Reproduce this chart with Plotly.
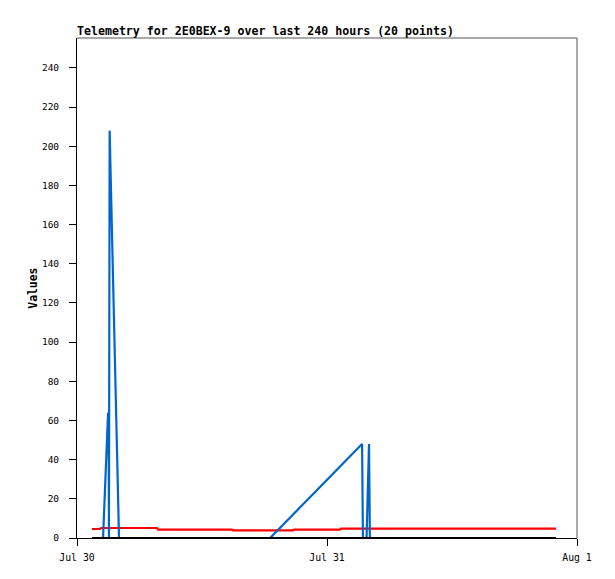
import plotly.graph_objects as go

title_text = "Telemetry for 2E0BEX-9 over last 240 hours (20 points)"
y_label = "Values"

blue_times = ["2023-07-30 01:26", "2023-07-30 02:30", "2023-07-30 02:59", "2023-07-30 03:03",
              "2023-07-30 03:04", "2023-07-30 03:08", "2023-07-30 04:02", "2023-07-30 18:32",
              "2023-07-31 03:22", "2023-07-31 03:27", "2023-07-31 03:48", "2023-07-31 04:02",
              "2023-07-31 04:07", "2023-07-31 21:59"]
blue_values = [0, 0, 64, 40, 0, 208, 0, 0, 48, 0, 0, 48, 0, 0]

red_times = ["2023-07-30 01:26", "2023-07-30 02:13", "2023-07-30 02:18", "2023-07-30 07:41",
             "2023-07-30 07:47", "2023-07-30 14:53", "2023-07-30 14:59", "2023-07-30 20:44",
             "2023-07-30 20:50", "2023-07-31 01:15", "2023-07-31 01:21", "2023-07-31 21:59"]
red_values = [4.6, 4.6, 5.1, 5.1, 4.3, 4.3, 3.9, 3.9, 4.3, 4.3, 4.8, 4.8]

black_times = ["2023-07-30 01:26", "2023-07-31 21:59"]
black_values = [0, 0]

x_tick_vals = ["2023-07-30", "2023-07-31", "2023-08-01"]
x_tick_text = ["Jul 30", "Jul 31", "Aug 1"]
y_tick_vals = [0, 20, 40, 60, 80, 100, 120, 140, 160, 180, 200, 220, 240]

mono = "DejaVu Sans Mono"
OFF = 8  # page body offset

fig = go.Figure()
fig.add_trace(go.Scatter(x=red_times, y=red_values, mode="lines",
                         line=dict(color="#FF0000", width=2.2), showlegend=False))
fig.add_trace(go.Scatter(x=blue_times, y=blue_values, mode="lines",
                         line=dict(color="#0066CC", width=2.2), showlegend=False))
fig.add_trace(go.Scatter(x=black_times, y=black_values, mode="lines",
                         line=dict(color="#000000", width=2.2), showlegend=False))

fig.update_layout(
    width=615, height=579,
    margin=dict(l=77 - OFF, r=38 + OFF, t=38 - OFF, b=41 + OFF),
    paper_bgcolor="white", plot_bgcolor="white",
    title=dict(text="<b>" + title_text + "</b>", x=(77 - OFF)/615, xanchor="left", xref="container",
               y=1 - (31 - OFF)/579, yanchor="middle", yref="container",
               font=dict(family=mono, size=11.6, color="black")),
    xaxis=dict(range=["2023-07-30", "2023-08-01"], tickvals=x_tick_vals, ticktext=x_tick_text,
               showgrid=False, zeroline=False, showline=True, linecolor="black", linewidth=1,
               ticks="outside", ticklen=7, tickcolor="black", tickwidth=1,
               tickfont=dict(family=mono, size=9.8, color="black"), ticklabelstandoff=3),
    yaxis=dict(range=[0, 255.3], tickvals=y_tick_vals,
               showgrid=False, zeroline=False, showline=True, linecolor="black", linewidth=1,
               ticks="outside", ticklen=7, tickcolor="black", tickwidth=1,
               tickfont=dict(family=mono, size=9.5, color="black"), ticklabelstandoff=8),
    shapes=[
        dict(type="line", xref="paper", yref="paper", x0=0, x1=1, y0=1, y1=1,
             line=dict(color="#555555", width=1)),
        dict(type="line", xref="paper", yref="paper", x0=1, x1=1, y0=0, y1=1,
             line=dict(color="#555555", width=1)),
    ],
    annotations=[
        dict(text="<b>" + y_label + "</b>", xref="paper", yref="paper", x=(32.7-77)/500, y=0.5,
             xanchor="center", yanchor="middle", textangle=-90, showarrow=False,
             font=dict(family=mono, size=11.4, color="black")),
    ],
)

fig.write_html("out.html")
